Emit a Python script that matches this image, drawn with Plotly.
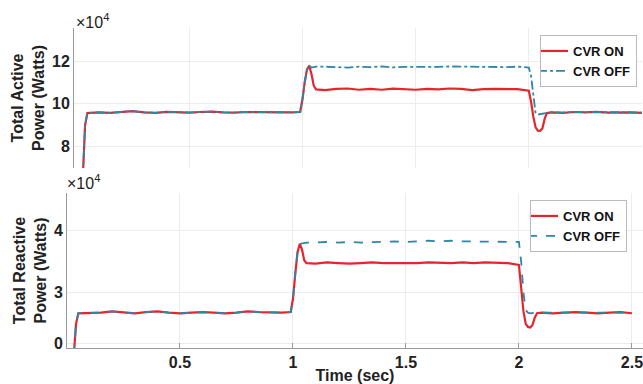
import plotly.graph_objects as go

# ---------------- data ----------------
time_sec = [0.030, 0.040, 0.050,
            0.10, 0.15, 0.20, 0.25, 0.30, 0.35, 0.40, 0.45, 0.50, 0.55, 0.60, 0.65, 0.70, 0.75, 0.80, 0.85, 0.90, 0.95,
            0.99, 1.00, 1.01, 1.02, 1.03, 1.04, 1.05, 1.06,
            1.10, 1.15, 1.20, 1.25, 1.30, 1.35, 1.40, 1.45, 1.50, 1.55, 1.60, 1.65, 1.70, 1.75, 1.80, 1.85, 1.90, 1.95,
            2.00, 2.01, 2.02, 2.03, 2.04, 2.05, 2.06, 2.07, 2.08,
            2.10, 2.15, 2.20, 2.25, 2.30, 2.35, 2.40, 2.45, 2.50]

# Total active power (x10^4 W)
active_cvr_on = [6.6, 9.0, 9.57,
                 9.60, 9.58, 9.62, 9.66, 9.60, 9.58, 9.63, 9.61, 9.59, 9.62, 9.64, 9.60, 9.59, 9.62, 9.61, 9.60, 9.61, 9.60,
                 9.62, 10.2, 11.0, 11.6, 11.78, 11.4, 10.85, 10.68,
                 10.64, 10.70, 10.72, 10.66, 10.70, 10.66, 10.71, 10.68, 10.66, 10.70, 10.68, 10.72, 10.70, 10.64, 10.69, 10.70, 10.70, 10.69,
                 10.62, 10.1, 9.4, 8.9, 8.75, 8.74, 8.85, 9.3, 9.57,
                 9.60, 9.58, 9.62, 9.60, 9.63, 9.59, 9.61, 9.60, 9.58]
active_cvr_off = [6.6, 9.0, 9.57,
                  9.60, 9.58, 9.62, 9.66, 9.60, 9.58, 9.63, 9.61, 9.59, 9.62, 9.64, 9.60, 9.59, 9.62, 9.61, 9.60, 9.61, 9.60,
                  9.62, 10.2, 11.0, 11.6, 11.78, 11.70, 11.72, 11.74,
                  11.74, 11.72, 11.70, 11.74, 11.72, 11.75, 11.71, 11.73, 11.72, 11.74, 11.73, 11.75, 11.74, 11.72, 11.74, 11.73, 11.72, 11.74,
                  11.70, 11.3, 10.3, 9.55, 9.50, 9.52, 9.56, 9.58, 9.59,
                  9.61, 9.59, 9.62, 9.61, 9.62, 9.60, 9.61, 9.60, 9.59]

# Total reactive power (x10^4, as drawn)
reactive_cvr_on = [2.0, 2.5, 2.67,
                   2.67, 2.68, 2.70, 2.69, 2.67, 2.69, 2.70, 2.68, 2.67, 2.68, 2.69, 2.68, 2.67, 2.68, 2.70, 2.69, 2.68, 2.68,
                   2.69, 2.9, 3.3, 3.65, 3.79, 3.70, 3.52, 3.48,
                   3.47, 3.49, 3.48, 3.47, 3.48, 3.49, 3.48, 3.48, 3.47, 3.48, 3.49, 3.48, 3.48, 3.49, 3.48, 3.49, 3.48, 3.48,
                   3.45, 3.1, 2.7, 2.5, 2.45, 2.44, 2.48, 2.6, 2.67,
                   2.68, 2.67, 2.68, 2.69, 2.68, 2.67, 2.68, 2.69, 2.67]
reactive_cvr_off = [2.0, 2.5, 2.67,
                    2.67, 2.68, 2.70, 2.69, 2.67, 2.69, 2.70, 2.68, 2.67, 2.68, 2.69, 2.68, 2.67, 2.68, 2.70, 2.69, 2.68, 2.68,
                    2.69, 2.9, 3.3, 3.65, 3.79, 3.80, 3.81, 3.81,
                    3.81, 3.82, 3.81, 3.82, 3.81, 3.82, 3.82, 3.83, 3.82, 3.83, 3.84, 3.83, 3.84, 3.83, 3.83, 3.82, 3.83, 3.82,
                    3.82, 3.5, 3.0, 2.72, 2.68, 2.67, 2.68, 2.68, 2.68,
                    2.68, 2.68, 2.68, 2.69, 2.68, 2.68, 2.68, 2.69, 2.68]

series_names = ["CVR ON", "CVR OFF"]
active_ticks = [8, 10, 12]
reactive_tickvals = [2.19, 3, 4]
reactive_ticktext = ["0", "3", "4"]
x_ticks = [0.5, 1, 1.5, 2, 2.5]
x_ticktext = ["0.5", "1", "1.5", "2", "2.5"]

# ---------------- styling ----------------
W, H = 643, 384
RED = "#e5252c"
TEAL = "#2f86a6"
FONT = "Liberation Sans, Arial, sans-serif"
GRID = "#ececec"
AXIS = "#9a9a9a"

def px_x(p):
    return p / W

def px_y(p):
    return 1 - p / H

fig = go.Figure()

fig.add_trace(go.Scatter(x=time_sec, y=active_cvr_on, name=series_names[0], mode="lines",
                         line=dict(color=RED, width=2.2), xaxis="x", yaxis="y", legend="legend"))
fig.add_trace(go.Scatter(x=time_sec, y=active_cvr_off, name=series_names[1], mode="lines",
                         line=dict(color=TEAL, width=1.8, dash="dashdot"), xaxis="x", yaxis="y", legend="legend"))
fig.add_trace(go.Scatter(x=time_sec, y=reactive_cvr_on, name=series_names[0], mode="lines",
                         line=dict(color=RED, width=2.2), xaxis="x2", yaxis="y2", legend="legend2"))
fig.add_trace(go.Scatter(x=time_sec, y=reactive_cvr_off, name=series_names[1], mode="lines",
                         line=dict(color=TEAL, width=1.8, dash="dash"), xaxis="x2", yaxis="y2", legend="legend2"))

tickfont = dict(family=FONT, size=16, color="#222", weight="bold")
titlefont = dict(family=FONT, size=16, color="#222", weight="bold")
legfont = dict(family=FONT, size=13, color="#111", weight="bold")

fig.update_layout(
    width=W, height=H,
    margin=dict(l=0, r=0, t=0, b=0, autoexpand=False),
    paper_bgcolor="white", plot_bgcolor="white",
    font=dict(family=FONT, color="#222"),
    xaxis=dict(domain=[px_x(74), px_x(642)], range=[-0.009, 2.5], anchor="y", automargin=False,
               tickvals=x_ticks, showticklabels=False, showgrid=True, gridcolor=GRID,
               zeroline=False, showline=False, ticks=""),
    yaxis=dict(domain=[px_y(168), px_y(28)], range=[7, 13.55], anchor="x", automargin=False,
               tickvals=active_ticks, tickfont=tickfont, showgrid=True, gridcolor=GRID,
               zeroline=False, showline=True, linecolor=AXIS, linewidth=1, ticks="",
               title=dict(text="Total Active<br>Power (Watts)", font=titlefont, standoff=3)),
    xaxis2=dict(domain=[px_x(67), px_x(643)], range=[0, 2.549], anchor="y2", automargin=False,
                tickvals=x_ticks, ticktext=x_ticktext, tickfont=tickfont, ticklabeloverflow="allow",
                showgrid=True, gridcolor=GRID, zeroline=False, showline=True, linecolor=AXIS,
                ticks="inside", ticklen=5, tickcolor=AXIS,
                title=dict(text="Time (sec)", font=titlefont, standoff=0)),
    yaxis2=dict(domain=[px_y(348), px_y(193)], range=[2.11, 4.61], anchor="x2", automargin=False,
                tickvals=reactive_tickvals, ticktext=reactive_ticktext, tickfont=tickfont,
                showgrid=True, gridcolor=GRID, zeroline=False, showline=True, linecolor=AXIS,
                ticks="",
                title=dict(text="Total Reactive<br>Power (Watts)", font=titlefont, standoff=3)),
    legend=dict(x=px_x(637), y=px_y(35), xanchor="right", yanchor="top",
                bgcolor="white", bordercolor="#bbbbbb", borderwidth=1,
                font=legfont, itemwidth=30, tracegroupgap=0, indentation=-8),
    legend2=dict(x=px_x(627), y=px_y(200), xanchor="right", yanchor="top",
                 bgcolor="white", bordercolor="#bbbbbb", borderwidth=1,
                 font=legfont, itemwidth=30, tracegroupgap=0, indentation=-8),
    showlegend=True,
)

fig.add_annotation(text="×10<sup>4</sup>", x=px_x(74), y=px_y(33), xref="paper", yref="paper",
                   xanchor="left", yanchor="bottom", showarrow=False,
                   font=dict(family=FONT, size=16, color="#222"))
fig.add_annotation(text="×10<sup>4</sup>", x=px_x(65), y=px_y(194), xref="paper", yref="paper",
                   xanchor="left", yanchor="bottom", showarrow=False,
                   font=dict(family=FONT, size=16, color="#222"))

fig.write_html("out.html", config={"displayModeBar": False},
               post_script="document.body.style.margin='0';document.body.style.overflow='hidden';")
